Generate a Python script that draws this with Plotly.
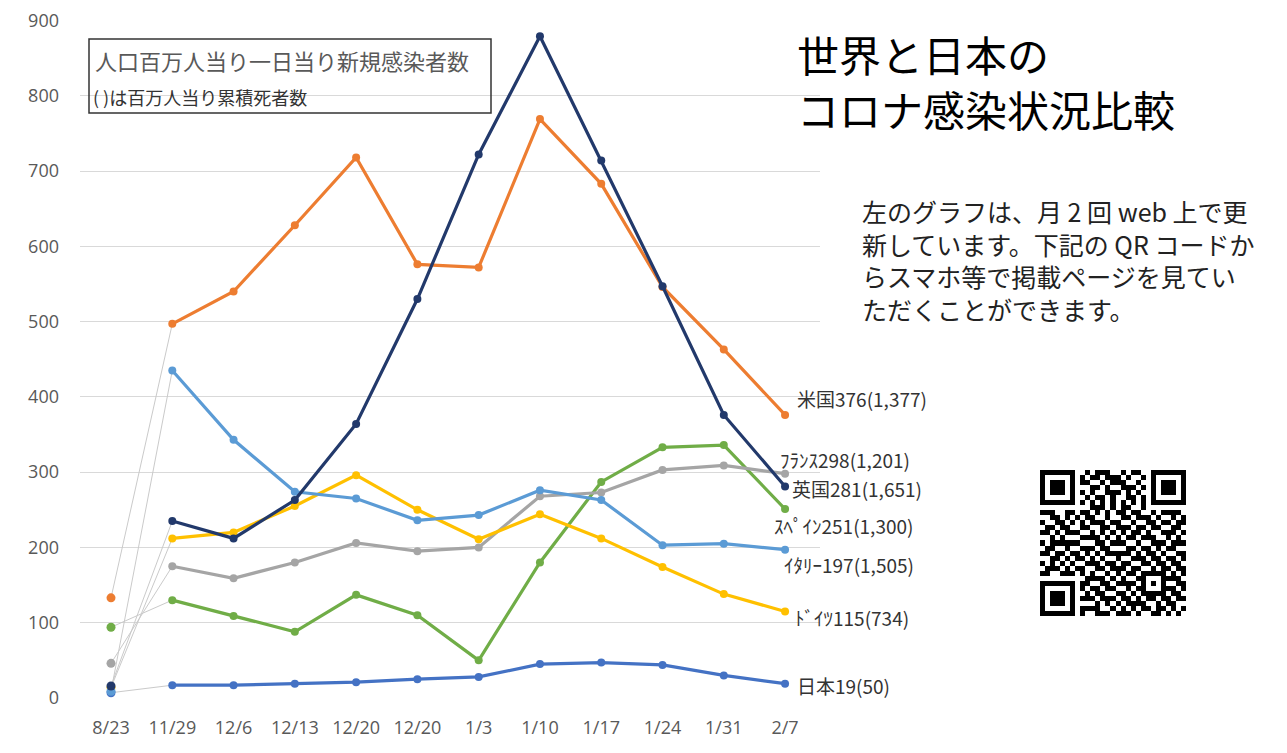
import plotly.graph_objects as go

# ---------------- data ----------------
dates = ["8/23", "11/29", "12/6", "12/13", "12/20", "12/20", "1/3", "1/10", "1/17", "1/24", "1/31", "2/7"]

us      = [133, 497, 540, 628, 718, 576, 572, 769, 683, 546, 463, 376]
uk      = [16, 235, 212, 263, 364, 530, 722, 879, 714, 547, 376, 281]
italy   = [9, 435, 343, 274, 265, 236, 243, 276, 263, 203, 205, 197]
germany = [14, 212, 220, 255, 296, 250, 211, 244, 212, 174, 138, 115]
france  = [46, 175, 159, 180, 206, 195, 200, 268, 273, 303, 309, 298]
spain   = [94, 130, 109, 88, 137, 110, 50, 180, 287, 333, 336, 251]
japan   = [7, 17, 17, 19, 21, 25, 28, 45, 47, 44, 30, 19]

label_names  = ["米国", "ﾌﾗﾝｽ", "英国", "ｽﾍﾟｲﾝ", "ｲﾀﾘｰ", "ﾄﾞｲﾂ", "日本"]
label_deaths = ["1,377", "1,201", "1,651", "1,300", "1,505", "734", "50"]

y_ticks = [0, 100, 200, 300, 400, 500, 600, 700, 800, 900]

box_line1 = "人口百万人当り一日当り新規感染者数"
box_line2 = "( )は百万人当り累積死者数"
title_lines = ["世界と日本の", "コロナ感染状況比較"]
note_lines = ["左のグラフは、月 2 回 web 上で更",
              "新しています。下記の QR コードか",
              "らスマホ等で掲載ページを見てい",
              "ただくことができます。"]

qr_rows = [
    "10110 01101 01110 01011 01001 1011",
    "01101 10010 11011 10100 11010 0110",
    "11010 01011 00101 11001 01101 1101",
    "00111 10100 11010 01110 10010 1010",
    "11001 01110 10011 10101 00111 0101",
    "01110 11001 01101 00110 11100 1110",
    "10101 00111 01010 11011 01011 0011",
    "01011 10100 11101 01100 10110 1001",
    "11100 10011 01010 11011 00101 1110",
    "00110 11101 10010 01101 11010 0101",
    "10011 01010 11101 10010 01101 1011",
    "01101 10011 00110 11101 10110 0110",
    "11010 11100 10101 01011 01001 1101",
    "00101 01011 11010 10110 11100 1010",
    "10111 10100 01101 11001 00111 0111",
    "01100 11011 10110 00110 11010 1100",
    "11011 00101 01011 11101 01101 0011",
    "00110 11110 10100 10011 10110 1101",
    "10101 01001 11011 01100 11011 0110",
    "01110 10110 01101 11011 00101 1011",
    "11001 11010 10010 10110 11110 0101",
    "00111 00101 11101 01001 10101 1110",
    "10100 11011 00110 11110 01011 0011",
    "01011 10110 11011 00101 11100 1101",
    "11101 01101 01100 11010 10110 0110",
    "00110 10011 10111 01101 01101 1011",
    "10011 11100 01010 10111 10010 1100",
    "01101 00111 11001 01010 11011 0101",
    "11010 11010 01110 11101 00110 1010",
]

# ---------------- styling ----------------
series = [  # drawing order: bottom -> top
    ("日本", japan, "#4472C4"),
    ("スペイン", spain, "#70AD47"),
    ("フランス", france, "#A5A5A5"),
    ("ドイツ", germany, "#FFC000"),
    ("イタリア", italy, "#5B9BD5"),
    ("米国", us, "#ED7D31"),
    ("英国", uk, "#22396B"),
]
label_series = [us, france, uk, spain, italy, germany, japan]
# label anchor positions in page pixels (left edge, vertical centre)
label_px = [(795, 398), (778, 459), (790, 489), (772, 525), (782, 564), (793, 617), (795, 685)]

OFF = 8                      # page body margin
W, H = 1287 - 2 * OFF, 753 - 2 * OFF
L, T = 80 - OFF, 20 - OFF    # plot left / top in figure pixels
B = H - (698 - OFF)          # plot bottom at page y=698
R = 0
PW, PH = W - L - R, H - T - B


def px_x(page_x):
    return (page_x - OFF - L) / PW


def px_y(page_y):
    return (H - B - (page_y - OFF)) / PH


CJK = "Noto Sans CJK JP"
TICK_FONT = dict(family="Open Sans", size=18, color="#595959")

fig = go.Figure()
xs = list(range(len(dates)))

# thin gray connectors from 8/23 to 11/29
for name, vals, col in series:
    fig.add_trace(go.Scatter(x=xs[0:2], y=vals[0:2], mode="lines",
                             line=dict(color="#CACACA", width=1),
                             showlegend=False, hoverinfo="skip"))

for name, vals, col in series:
    fig.add_trace(go.Scatter(x=xs[1:], y=vals[1:], mode="lines+markers",
                             line=dict(color=col, width=3.2),
                             marker=dict(color=col, size=8),
                             name=name, showlegend=False))
for name, vals, col in series:
    fig.add_trace(go.Scatter(x=xs[0:1], y=vals[0:1], mode="markers",
                             marker=dict(color=col, size=9),
                             showlegend=False))

# QR code
N = 29
qr = [[int(c) for c in r.replace(" ", "")][:N] for r in qr_rows]


def put_finder(r0, c0):
    for i in range(-1, 8):
        for j in range(-1, 8):
            r, c = r0 + i, c0 + j
            if 0 <= r < N and 0 <= c < N:
                if 0 <= i <= 6 and 0 <= j <= 6:
                    on = (i in (0, 6) or j in (0, 6) or (2 <= i <= 4 and 2 <= j <= 4))
                    qr[r][c] = 1 if on else 0
                else:
                    qr[r][c] = 0


put_finder(0, 0)
put_finder(0, N - 7)
put_finder(N - 7, 0)
for k in range(8, N - 8):
    qr[6][k] = 1 if k % 2 == 0 else 0
    qr[k][6] = 1 if k % 2 == 0 else 0
for i in range(-2, 3):
    for j in range(-2, 3):
        qr[22 + i][22 + j] = 1 if (max(abs(i), abs(j)) != 1) else 0

fig.add_trace(go.Heatmap(z=qr, xaxis="x2", yaxis="y2",
                         colorscale=[[0, "white"], [1, "black"]],
                         showscale=False, hoverinfo="skip"))

# ---------------- annotations ----------------
ann = []
for (nm, dth, vals, (lx, ly)) in zip(label_names, label_deaths, label_series, label_px):
    ann.append(dict(x=px_x(lx), y=px_y(ly), xref="paper", yref="paper",
                    xanchor="left", yanchor="middle", showarrow=False,
                    text=f"{nm}{vals[-1]}({dth})",
                    font=dict(family=CJK, size=19, color="#333333")))

ann.append(dict(x=px_x(93), y=px_y(60), xref="paper", yref="paper", xanchor="left",
                yanchor="middle", showarrow=False, text=box_line1,
                font=dict(family=CJK, size=22, color="#595959")))
ann.append(dict(x=px_x(91), y=px_y(97), xref="paper", yref="paper", xanchor="left",
                yanchor="middle", showarrow=False, text=box_line2,
                font=dict(family=CJK, size=18, color="#333333")))

ann.append(dict(x=px_x(795), y=px_y(81), xref="paper", yref="paper", xanchor="left",
                yanchor="middle", showarrow=False, align="left",
                text="<br>".join(title_lines),
                font=dict(family=CJK, size=42, color="#000000")))

ann.append(dict(x=px_x(860), y=px_y(260), xref="paper", yref="paper", xanchor="left",
                yanchor="middle", showarrow=False, align="left",
                text="<br>".join(note_lines),
                font=dict(family=CJK, size=25, color="#222222")))

shapes = [dict(type="rect", xref="paper", yref="paper",
               x0=px_x(89), x1=px_x(491), y0=px_y(113), y1=px_y(39),
               line=dict(color="#333333", width=1.5), fillcolor="rgba(0,0,0,0)")]

fig.update_layout(
    width=W, height=H,
    margin=dict(l=L, r=R, t=T, b=B, pad=0),
    paper_bgcolor="white", plot_bgcolor="white",
    showlegend=False,
    annotations=ann, shapes=shapes,
    xaxis=dict(domain=[0, px_x(820)], range=[-0.506, 11.57],
               tickmode="array", tickvals=xs, ticktext=dates,
               showgrid=False, zeroline=False, showline=False, ticks="",
               tickfont=TICK_FONT, ticklabelstandoff=17),
    yaxis=dict(range=[0, 900.6], tickmode="array", tickvals=y_ticks,
               showgrid=True, gridcolor="#D9D9D9", gridwidth=1,
               zeroline=False, showline=False, ticks="",
               tickfont=TICK_FONT, ticklabelstandoff=20,
               ticklabeloverflow="allow"),
    xaxis2=dict(domain=[px_x(1040), px_x(1186)], range=[-0.5, N - 0.5],
                visible=False, anchor="y2"),
    yaxis2=dict(domain=[px_y(616), px_y(470)], range=[N - 0.5, -0.5],
                visible=False, anchor="x2"),
)

fig.write_html("out.html")
